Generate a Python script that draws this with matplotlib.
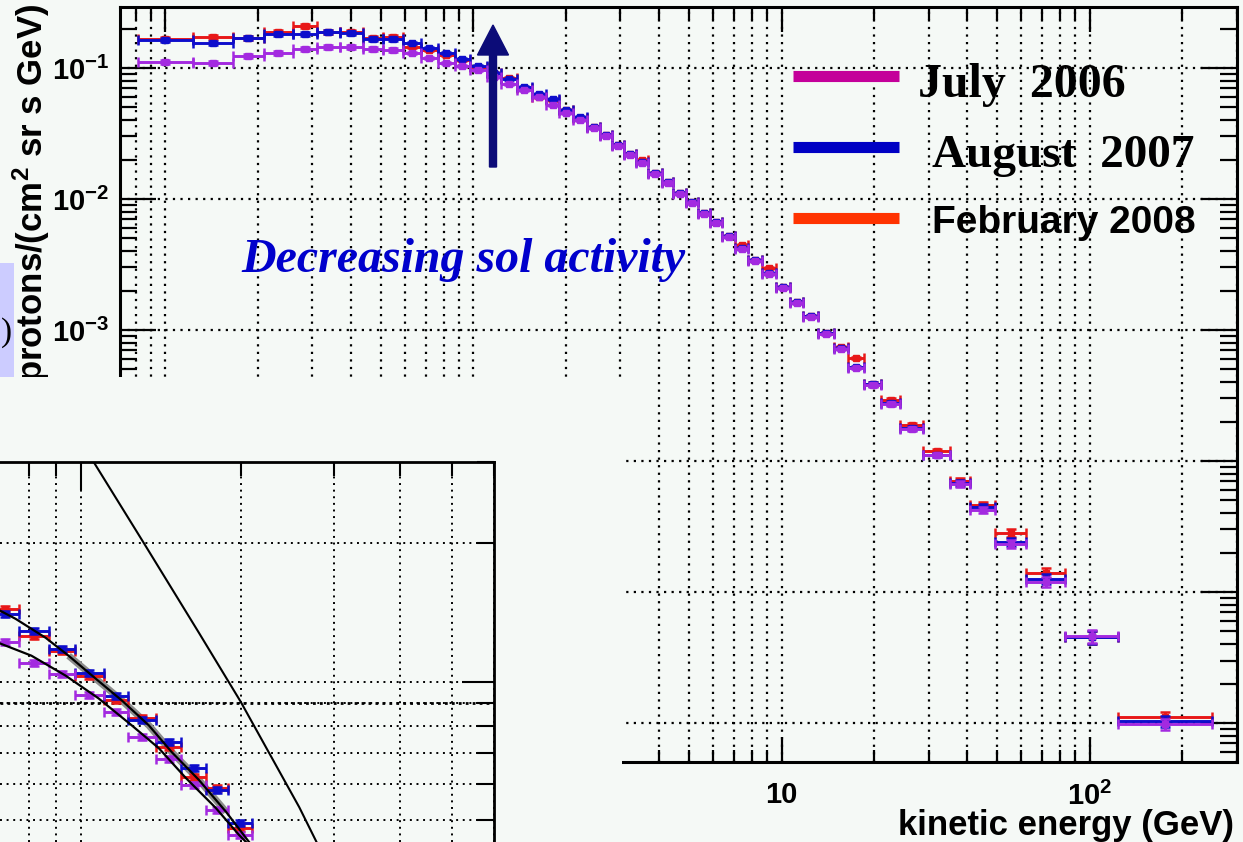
import numpy as np
import matplotlib
matplotlib.use('Agg')
import matplotlib.pyplot as plt
from matplotlib import ticker
from matplotlib.patches import Rectangle, FancyArrow
from matplotlib.lines import Line2D
from matplotlib.transforms import IdentityTransform

# ------------------------------------------------------------------ data
bin_edges_gev = [0.0814, 0.1228, 0.1656, 0.2088, 0.2594, 0.3103, 0.3686, 0.4378,
                 0.5083, 0.5904, 0.6754, 0.7667, 0.8708, 0.9741, 1.106, 1.228,
                 1.384, 1.548, 1.720, 1.895, 2.104, 2.336, 2.575, 2.817, 3.082,
                 3.370, 3.686, 4.093, 4.444, 4.897, 5.356, 5.860, 6.409, 7.064,
                 7.785, 8.644, 9.597, 10.66, 11.74, 13.14, 14.81, 16.44, 18.53,
                 21.04, 24.25, 28.80, 35.25, 40.93, 49.34, 62.2, 83.2, 123.8, 249.8]

flux_feb2008 = [0.1665, 0.1724, 0.1694, 0.1883, 0.2093, 0.1883, 0.1883, 0.1694,
                0.1724, 0.1446, 0.1372, 0.1257, 0.1151, 0.1018, 0.0916, 0.0839,
                0.0704, 0.0601, 0.0570, 0.0478, 0.0415, 0.0354, 0.0308, 0.0258,
                0.0221, 0.0198, 0.0158, 0.01348, 0.01111, 0.00949, 0.00781, 0.00667,
                0.00522, 0.00446, 0.00342, 0.00297, 0.00213, 0.001636, 0.001279,
                0.000949, 0.000742, 0.000611, 0.000387, 0.000292, 0.000188,
                0.0001192, 7.04e-5, 4.61e-5, 2.82e-5, 1.40e-5, 4.53e-6, 1.111e-6]

flux_aug2007 = [0.1636, 0.1552, 0.1694, 0.1817, 0.1817, 0.1883, 0.1850, 0.1665,
                0.1665, 0.1552, 0.1421, 0.1302, 0.1171, 0.1036, 0.0916, 0.0824,
                0.0716, 0.0633, 0.0580, 0.0478, 0.0423, 0.0354, 0.0308, 0.0258,
                0.0221, 0.0192, 0.0158, 0.01348, 0.01111, 0.00949, 0.00781, 0.00667,
                0.00522, 0.00423, 0.00342, 0.00272, 0.00213, 0.001636, 0.001279,
                0.000949, 0.000729, 0.000522, 0.000387, 0.000277, 0.000179,
                0.0001111, 6.80e-5, 4.45e-5, 2.41e-5, 1.256e-5, 4.53e-6, 1.036e-6]

flux_jul2006 = [0.1111, 0.1092, 0.1235, 0.1302, 0.1396, 0.1446, 0.1446, 0.1396,
                0.1372, 0.1302, 0.1192, 0.1092, 0.1036, 0.0965, 0.0854, 0.0755,
                0.0680, 0.0601, 0.0522, 0.0453, 0.0401, 0.0348, 0.0303, 0.0254,
                0.0217, 0.0188, 0.0155, 0.01325, 0.01092, 0.00932, 0.00768, 0.00656,
                0.00513, 0.00415, 0.00336, 0.00268, 0.00209, 0.001607, 0.001257,
                0.000932, 0.000716, 0.000513, 0.000380, 0.000272, 0.000175,
                0.0001111, 6.68e-5, 4.23e-5, 2.32e-5, 1.192e-5, 4.61e-6, 9.83e-7]

rel_err = [0.04, 0.04, 0.04, 0.04, 0.04, 0.04, 0.04, 0.04, 0.04, 0.02,
           0.02, 0.02, 0.02, 0.02, 0.02, 0.02, 0.02, 0.02, 0.02, 0.02,
           0.02, 0.02, 0.02, 0.02, 0.02, 0.02, 0.02, 0.02, 0.02, 0.02,
           0.02, 0.02, 0.02, 0.02, 0.02, 0.02, 0.02, 0.02, 0.02, 0.02,
           0.025, 0.025, 0.03, 0.03, 0.035, 0.04, 0.045, 0.055, 0.07, 0.09,
           0.11, 0.10]

series_labels = ['July  2006', 'August  2007', 'February 2008']

# inset (zoom on the same bins around 1 GeV)
inset_edges_gev = bin_edges_gev[10:21]
inset_aug2007 = [1.403, 1.289, 1.179, 1.046, 0.928, 0.823, 0.738, 0.648, 0.581, 0.493]
inset_feb2008 = [1.439, 1.258, 1.167, 1.030, 0.910, 0.832, 0.720, 0.620, 0.587, 0.481]
inset_jul2006 = [1.220, 1.099, 1.036, 0.933, 0.857, 0.756, 0.678, 0.596, 0.526, 0.464]
inset_rel_err = [0.015, 0.015, 0.015, 0.015, 0.015, 0.015, 0.015, 0.015, 0.015, 0.015]

fit_upper_x = [0.700, 0.754, 0.859, 0.949, 1.067, 1.195, 1.344, 1.485, 1.670, 1.878, 2.075]
fit_upper_y = [1.432, 1.369, 1.245, 1.138, 1.015, 0.910, 0.803, 0.702, 0.611, 0.521, 0.448]
fit_lower_x = [0.700, 0.808, 0.937, 1.081, 1.248, 1.404, 1.578, 1.797, 1.987, 2.048]
fit_lower_y = [1.214, 1.138, 1.030, 0.919, 0.803, 0.716, 0.617, 0.531, 0.464, 0.448]
steep_x = [1.058, 1.315, 1.67, 2.0, 2.58, 2.78]
steep_y = [3.0, 2.0, 1.276, 0.905, 0.533, 0.448]
inset_ref_level = 0.9

# ------------------------------------------------------------------ style
W, H = 1243, 842
BG = '#f5f9f6'
C_JUL, C_AUG, C_FEB = '#a32ae0', '#0d0dcc', '#e81818'
L_JUL, L_AUG, L_FEB = '#c4009a', '#0000c4', '#ff3300'

plt.rcParams['font.family'] = ['Liberation Sans', 'DejaVu Sans']
plt.rcParams['font.weight'] = 'bold'
plt.rcParams['mathtext.fontset'] = 'custom'
plt.rcParams['mathtext.rm'] = 'Liberation Sans:bold'
plt.rcParams['mathtext.bf'] = 'Liberation Sans:bold'
plt.rcParams['mathtext.it'] = 'Liberation Sans:bold:italic'
plt.rcParams['mathtext.default'] = 'rm'

PX = IdentityTransform()


def rect(x0, y0, x1, y1):
    return [x0 / W, 1 - y1 / H, (x1 - x0) / W, (y1 - y0) / H]


def draw_hist(axis, edges, vals, rel, color, z, ms=5):
    lo = np.array(edges[:-1])
    hi = np.array(edges[1:])
    ctr = np.sqrt(lo * hi)
    v = np.array(vals)
    axis.errorbar(ctr, v, xerr=[ctr - lo, hi - ctr], yerr=v * np.array(rel),
                  fmt='s', color=color, mec=color, ms=ms, elinewidth=2.1,
                  capsize=3.5, capthick=1.8, zorder=z)


def log_label(v, pos):
    e = int(round(np.log10(v)))
    if e == 0:
        return '1'
    if e == 1:
        return '10'
    return r'$10^{%d}$' % e


fig = plt.figure(figsize=(W / 100, H / 100), dpi=100, facecolor=BG)

# ------------------------------------------------------------------ main axes
ax = fig.add_axes(rect(120, 7, 1237, 762))
ax.set_zorder(1)
ax.set_facecolor(BG)
ax.set_xscale('log')
ax.set_yscale('log')
ax.set_xlim(0.0712, 301)
ax.set_ylim(5.04e-7, 0.292)

draw_hist(ax, bin_edges_gev, flux_feb2008, rel_err, C_FEB, 3)
draw_hist(ax, bin_edges_gev, flux_aug2007, rel_err, C_AUG, 4)
draw_hist(ax, bin_edges_gev, flux_jul2006, rel_err, C_JUL, 5)

for a in (ax.xaxis, ax.yaxis):
    a.set_major_locator(ticker.LogLocator(base=10, numticks=30))
    a.set_minor_locator(ticker.LogLocator(base=10, subs=np.arange(2, 10), numticks=200))
    a.set_major_formatter(ticker.FuncFormatter(log_label))
    a.set_minor_formatter(ticker.NullFormatter())

dots = (0, (1, 2.4))
ax.grid(True, which='both', axis='x', color='k', ls=dots, lw=1.6)
ax.grid(True, which='major', axis='y', color='k', ls=dots, lw=1.6)
ax.set_axisbelow(True)

ax.tick_params(axis='x', which='major', direction='in', length=18, width=1.6,
               top=True, bottom=True, pad=14, labelsize=21)
ax.tick_params(axis='x', which='minor', direction='in', length=9, width=1.6,
               top=True, bottom=True)
ax.tick_params(axis='y', which='major', direction='in', length=26, width=1.6,
               left=True, right=True, pad=8, labelsize=21)
ax.tick_params(axis='y', which='minor', direction='in', length=12, width=1.6,
               left=True, right=True)
for s in ax.spines.values():
    s.set_linewidth(2.2)

ax.text(31, H - 4, r'protons/(cm$^{2}$ sr s GeV)', transform=PX, rotation=90,
        ha='center', va='top', fontsize=25, fontweight='bold')
ax.text(1234, H - 826, 'kinetic energy (GeV)', transform=PX, ha='right',
        va='center', fontsize=25, fontweight='bold')

# ------------------------------------------------------------------ cover panel
cax = fig.add_axes(rect(0, 377, 622, 842))
cax.set_zorder(2)
cax.set_facecolor(BG)
cax.set_xticks([])
cax.set_yticks([])
for s in cax.spines.values():
    s.set_visible(False)

# ------------------------------------------------------------------ inset
iax = fig.add_axes(rect(0, 462, 494, 842))
iax.set_zorder(3)
iax.set_facecolor(BG)
iax.set_xscale('log')
iax.set_yscale('log')
iax.set_xlim(0.705, 6.0)
iax.set_ylim(0.448, 3.0)
for a in (iax.xaxis, iax.yaxis):
    a.set_major_locator(ticker.LogLocator(base=10, numticks=10))
    a.set_minor_locator(ticker.LogLocator(base=10, subs=np.arange(2, 10), numticks=50))
    a.set_major_formatter(ticker.NullFormatter())
    a.set_minor_formatter(ticker.NullFormatter())
iax.grid(True, which='both', color='k', ls=dots, lw=1.4)
iax.axhline(inset_ref_level, color='k', ls=(0, (1, 1.5)), lw=2.0, zorder=1)
iax.set_axisbelow(True)
iax.spines['left'].set_visible(False)
iax.spines['bottom'].set_visible(False)
iax.spines['top'].set_linewidth(2)
iax.spines['right'].set_linewidth(2)
iax.tick_params(which='both', direction='in', top=True, right=True,
                bottom=False, left=False, labelbottom=False, labelleft=False, width=1.5)
iax.tick_params(axis='x', which='major', length=20)
iax.tick_params(axis='x', which='minor', length=10)
iax.tick_params(axis='y', which='major', length=23)
iax.tick_params(axis='y', which='minor', length=12)

iax.plot(steep_x, steep_y, color='k', lw=1.5, zorder=2)
iax.plot(fit_upper_x[3:10], fit_upper_y[3:10], color='#8c8c8c', lw=5, zorder=2,
         solid_capstyle='butt')
iax.plot(fit_upper_x, fit_upper_y, color='k', lw=1.6, zorder=6)
iax.plot(fit_lower_x, fit_lower_y, color='k', lw=1.6, zorder=6)
draw_hist(iax, inset_edges_gev, inset_feb2008, inset_rel_err, C_FEB, 3, ms=4)
draw_hist(iax, inset_edges_gev, inset_aug2007, inset_rel_err, C_AUG, 4, ms=4)
draw_hist(iax, inset_edges_gev, inset_jul2006, inset_rel_err, C_JUL, 5, ms=4)

# ------------------------------------------------------------------ overlays
legend_colors = [L_JUL, L_AUG, L_FEB]
legend_line_y = [76, 147, 218]
legend_text_pos = [(918, 97), (932, 167), (932, 233)]
legend_fonts = [dict(family='Liberation Serif', size=34.5),
                dict(family='Liberation Serif', size=34),
                dict(family='Liberation Sans', size=28)]
for lab, col, ly, (tx, ty), fk in zip(series_labels, legend_colors, legend_line_y,
                                       legend_text_pos, legend_fonts):
    fig.add_artist(Line2D([793, 899], [H - ly, H - ly], color=col, lw=8,
                          solid_capstyle='butt', transform=PX, zorder=10))
    fig.text(tx, H - ty, lab, transform=PX, ha='left', va='baseline',
             fontweight='bold', color='k', zorder=10, **fk)

fig.text(241, H - 272, 'Decreasing sol activity', transform=PX, ha='left',
         va='baseline', family='Liberation Serif', fontweight='bold',
         style='italic', size=34.5, color='#0000cc', zorder=10)

fig.add_artist(FancyArrow(493, H - 167, 0, 142, width=7, head_width=31,
                          head_length=30, length_includes_head=True,
                          color='#0c0c78', transform=PX, zorder=10))

fig.add_artist(Rectangle((0, H - 377), 14, 114, facecolor='#ccccff',
                         edgecolor='none', transform=PX, zorder=11))
fig.text(1, H - 333, ')', transform=PX, ha='left', va='center',
         family='Liberation Serif', fontweight='normal', size=24, zorder=12)

fig.savefig('out.png', dpi=100, facecolor=BG)
